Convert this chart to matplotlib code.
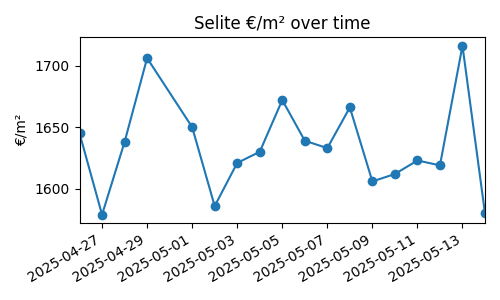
import numpy as np
import pandas as pd
import matplotlib
matplotlib.use("Agg")
import matplotlib.pyplot as plt

dates = pd.to_datetime([
    "2025-04-26", "2025-04-27", "2025-04-28", "2025-04-29", "2025-05-01",
    "2025-05-02", "2025-05-03", "2025-05-04", "2025-05-05", "2025-05-06",
    "2025-05-07", "2025-05-08", "2025-05-09", "2025-05-10", "2025-05-11",
    "2025-05-12", "2025-05-13", "2025-05-14",
])
price_m2 = [1645, 1579, 1638, 1706, 1650, 1586, 1621, 1630, 1672, 1639,
            1633, 1666, 1606, 1612, 1623, 1619, 1716, 1580]

fig, ax = plt.subplots(figsize=(5, 3), dpi=100)
ax.plot(dates, price_m2, marker="o")
ax.set_xlim(dates[0], dates[-1])
ax.set_title("Selite €/m² over time")
ax.set_ylabel("€/m²")
fig.autofmt_xdate()
fig.tight_layout()
fig.savefig("out.png")
